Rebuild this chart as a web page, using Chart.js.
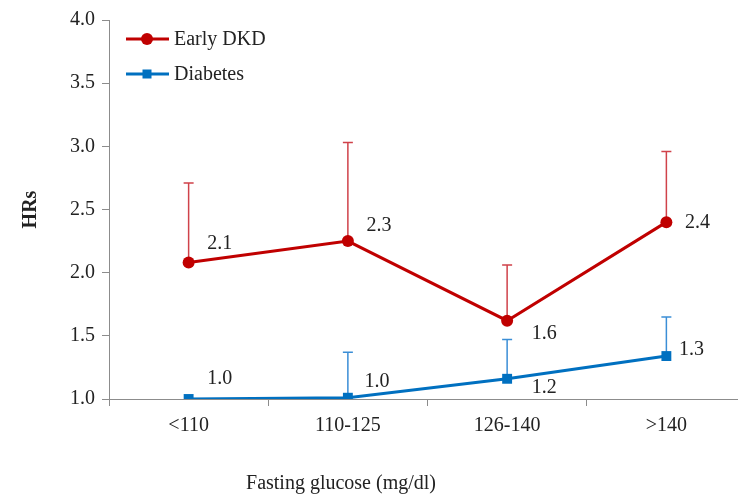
<!DOCTYPE html>
<html><head><meta charset="utf-8">
<script src="https://cdn.jsdelivr.net/npm/chart.js@4/dist/chart.umd.min.js"></script>
<style>
html,body{margin:0;padding:0;background:#fff;overflow:hidden;width:738px;height:496px}
#wrap{position:relative;width:770px;height:496px}
canvas{display:block}
</style>
</head><body><div id="wrap"><canvas id="c" width="770" height="496"></canvas></div>
<script>
const categories = ['<110', '110-125', '126-140', '>140'];
const seriesNames = ['Early DKD', 'Diabetes'];
const dkdHR = [2.08, 2.25, 1.62, 2.40];
const dkdUpper = [2.71, 3.03, 2.06, 2.96];
const diabetesHR = [1.00, 1.01, 1.16, 1.34];
const diabetesUpper = [null, 1.37, 1.47, 1.65];
const yTicks = [1.0, 1.5, 2.0, 2.5, 3.0, 3.5, 4.0];
const xTitle = 'Fasting glucose (mg/dl)';
const yTitle = 'HRs';

const FONT = '"Liberation Serif", "Times New Roman", serif';
const RED = '#C00000', BLUE = '#0070C0';
const uppers = [dkdUpper, diabetesUpper];
const errColors = ['#D0424A', '#3B8ED6'];
const labelOffsets = [
  [[31, -19], [31, -15], [37, 13], [31, 1]],
  [[31, -20], [29, -16], [37, 9], [25, -6]]
];
const fmt = v => (Math.round(v * 10) / 10).toFixed(1);

const extras = {
  id: 'extras',
  beforeDatasetsDraw(chart) {
    const {ctx, scales: {x, y}} = chart;
    ctx.save();
    chart.data.datasets.forEach((ds, i) => {
      ctx.strokeStyle = errColors[i];
      ctx.lineWidth = 1.5;
      ds.data.forEach((v, j) => {
        const u = uppers[i][j];
        if (u == null) return;
        const px = x.getPixelForValue(j), y0 = y.getPixelForValue(v), y1 = y.getPixelForValue(u);
        ctx.beginPath();
        ctx.moveTo(px, y0); ctx.lineTo(px, y1);
        ctx.moveTo(px - 5, y1); ctx.lineTo(px + 5, y1);
        ctx.stroke();
      });
    });
    ctx.restore();
  },
  afterDatasetsDraw(chart) {
    const {ctx, scales: {x, y}} = chart;
    ctx.save();
    ctx.font = '20px ' + FONT;
    ctx.fillStyle = '#222';
    ctx.textAlign = 'center';
    ctx.textBaseline = 'middle';
    chart.data.datasets.forEach((ds, i) => {
      ds.data.forEach((v, j) => {
        const px = x.getPixelForValue(j), py = y.getPixelForValue(v);
        const o = labelOffsets[i][j];
        ctx.fillText(fmt(v), px + o[0], py + o[1]);
      });
    });
    ctx.restore();
  },
  afterDraw(chart) {
    const {ctx} = chart;
    ctx.save();
    const rows = [{y: 39, ty: 40}, {y: 74, ty: 75}];
    chart.data.datasets.forEach((ds, i) => {
      const r = rows[i];
      ctx.strokeStyle = ds.borderColor;
      ctx.lineWidth = 3;
      ctx.beginPath(); ctx.moveTo(126, r.y); ctx.lineTo(169, r.y); ctx.stroke();
      ctx.fillStyle = ds.borderColor;
      if (i === 0) { ctx.beginPath(); ctx.arc(147, r.y, 6, 0, Math.PI * 2); ctx.fill(); }
      else { ctx.fillRect(142.5, r.y - 4.5, 9, 9); }
      ctx.fillStyle = '#222';
      ctx.font = '20px ' + FONT;
      ctx.textAlign = 'left';
      ctx.textBaseline = 'middle';
      ctx.fillText(ds.label, 174, r.ty);
    });
    ctx.textAlign = 'center';
    ctx.textBaseline = 'middle';
    ctx.fillText(xTitle, 341, 484);
    ctx.restore();
  }
};

new Chart(document.getElementById('c'), {
  type: 'line',
  data: {
    labels: categories,
    datasets: [
      {label: seriesNames[0], data: dkdHR, borderColor: RED, backgroundColor: RED, borderWidth: 3,
       pointStyle: 'circle', pointRadius: 6, pointBorderWidth: 0, pointHoverRadius: 6, tension: 0, fill: false},
      {label: seriesNames[1], data: diabetesHR, borderColor: BLUE, backgroundColor: BLUE, borderWidth: 3,
       pointStyle: 'rect', pointRadius: 7, pointBorderWidth: 0, pointHoverRadius: 7, tension: 0, fill: false}
    ]
  },
  options: {
    responsive: false,
    animation: false,
    events: [],
    layout: {padding: {top: 20, right: 24, bottom: 0, left: 0}},
    plugins: {legend: {display: false}, tooltip: {enabled: false}},
    scales: {
      x: {
        type: 'category', offset: true,
        grid: {display: true, drawOnChartArea: false, offset: true, tickLength: 7, color: '#8c8c8c'},
        border: {color: '#8c8c8c', width: 1},
        ticks: {font: {family: FONT, size: 20}, color: '#222', padding: 8, maxRotation: 0, autoSkip: false},
        afterFit: s => { s.height = 97; }
      },
      y: {
        min: 1, max: 4,
        afterBuildTicks: s => { s.ticks = yTicks.map(v => ({value: v})); },
        grid: {display: true, drawOnChartArea: false, tickLength: 7, color: '#8c8c8c'},
        border: {color: '#8c8c8c', width: 1},
        ticks: {font: {family: FONT, size: 20}, color: '#222', padding: 7, callback: v => Number(v).toFixed(1)},
        title: {display: true, text: yTitle, color: '#222', font: {family: FONT, size: 20, weight: 'bold'}, padding: {top: 19, bottom: 0}},
        afterFit: s => { s.width = 109; }
      }
    }
  },
  plugins: [extras]
});
</script>
</body></html>
